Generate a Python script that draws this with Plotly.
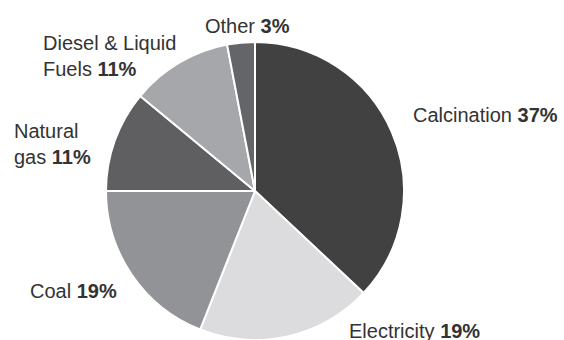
import plotly.graph_objects as go

# Sources of CO2 emissions (share of total, %)
labels = ["Calcination", "Electricity", "Coal", "Natural gas", "Diesel & Liquid Fuels", "Other"]
values = [37, 19, 19, 11, 11, 3]
colors = ["#414141", "#dcdcde", "#929396", "#5f5f61", "#a6a7aa", "#646568"]

# label text lines (name part) and their anchor points in pixels (left x, middle y)
label_lines = ["Calcination", "Electricity", "Coal", "Natural<br>gas", "Diesel & Liquid<br>Fuels", "Other"]
label_pos = [(411, 115), (347, 331), (28, 291), (12, 144), (41, 56), (203, 26)]

W, H = 564, 340
cx, cy, r = 255, 191, 149

fig = go.Figure(go.Pie(
    labels=labels,
    values=values,
    sort=False,
    direction="clockwise",
    rotation=0,
    marker=dict(colors=colors, line=dict(color="white", width=2)),
    textinfo="none",
    hoverinfo="label+percent",
    showlegend=False,
    domain=dict(x=[(cx - r) / W, (cx + r) / W], y=[(H - cy - r) / H, (H - cy + r) / H]),
))

for name, v, (px, py) in zip(label_lines, values, label_pos):
    fig.add_annotation(
        x=px / W, y=1 - py / H, xref="paper", yref="paper",
        xanchor="left", yanchor="middle", align="left",
        text=f"{name} <b>{v}%</b>",
        showarrow=False,
        font=dict(family="Liberation Sans, Arial, sans-serif", size=20, color="#333333"),
    )

fig.update_layout(
    width=W, height=H,
    margin=dict(l=0, r=0, t=0, b=0),
    paper_bgcolor="white",
    plot_bgcolor="white",
)

fig.write_html("out.html")
